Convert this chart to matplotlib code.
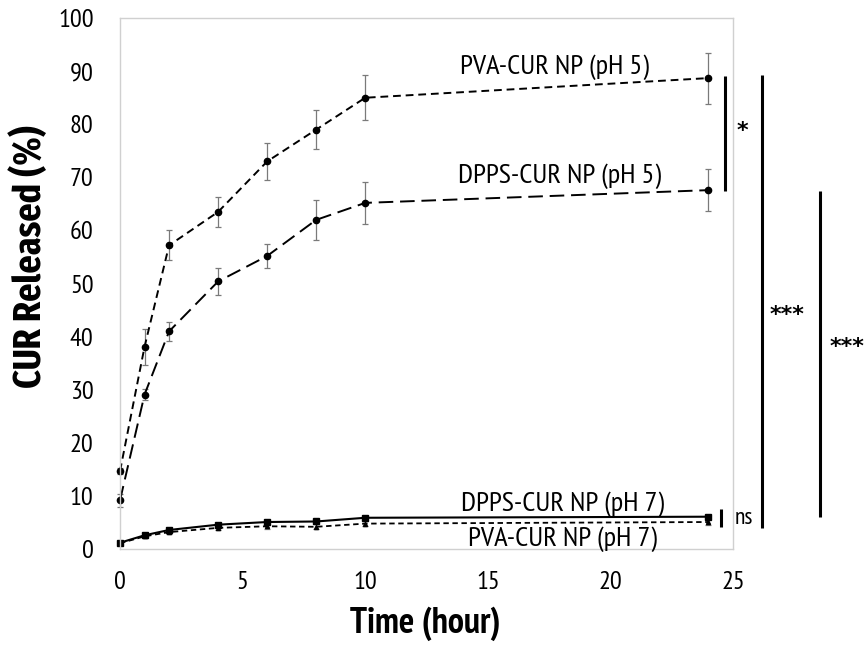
import matplotlib
matplotlib.use("Agg")
from matplotlib import pyplot as plt

plt.rcParams['font.family'] = ['PT Sans Narrow', 'DejaVu Sans']

# Release time points (hours)
time_h = [0, 1, 2, 4, 6, 8, 10, 24]

# Cumulative CUR release (%) and SD
pva_ph5 = [14.7, 38.1, 57.2, 63.5, 73.0, 79.0, 85.0, 88.7]
pva_ph5_err = [0.6, 3.4, 2.8, 2.9, 3.5, 3.6, 4.2, 4.8]
dpps_ph5 = [9.2, 29.1, 41.0, 50.4, 55.2, 62.0, 65.2, 67.6]
dpps_ph5_err = [1.2, 1.0, 1.8, 2.5, 2.3, 3.8, 3.9, 3.9]
dpps_ph7 = [1.2, 2.6, 3.6, 4.6, 5.1, 5.2, 5.9, 6.1]
dpps_ph7_err = [0.2, 0.3, 0.3, 0.3, 0.3, 0.3, 0.3, 0.3]
pva_ph7 = [1.1, 2.4, 3.2, 4.0, 4.3, 4.2, 4.8, 5.1]
pva_ph7_err = [0.2, 0.3, 0.3, 0.4, 0.5, 0.5, 0.5, 0.5]

fig = plt.figure(figsize=(8.66, 6.46), dpi=100)
ax = fig.add_axes([0.1386, 0.150, 0.7078, 0.822])

err_kw = dict(ecolor='#7a7a7a', elinewidth=0.9, capsize=2.2, capthick=0.9)

for y, e, ls, lw, mk, ms in [
        (pva_ph5, pva_ph5_err, (0, (4, 2.5)), 1.4, 'o', 4.5),
        (dpps_ph5, dpps_ph5_err, (0, (7.5, 3.5)), 1.4, 'o', 4.5),
        (pva_ph7, pva_ph7_err, (0, (3, 2)), 1.3, '^', 3),
        (dpps_ph7, dpps_ph7_err, '-', 1.5, 's', 4.8)]:
    ln, caps, bars = ax.errorbar(time_h, y, yerr=e, color='black', linestyle=ls,
                                 linewidth=lw, marker=mk, markersize=ms, **err_kw)
    for a in [ln, *caps, *bars]:
        a.set_clip_on(False)

ax.set_xlim(0, 25)
ax.set_ylim(0, 100)
ax.set_xticks(range(0, 26, 5))
ax.set_yticks(range(0, 101, 10))
ax.tick_params(length=0, labelsize=19)
ax.tick_params(axis='y', pad=19)
ax.tick_params(axis='x', pad=16)
for s in ax.spines.values():
    s.set_color('#d0d0d0')
    s.set_linewidth(1.0)

# Axis titles
fig.text(0.4908, 0.020, "Time (hour)", fontsize=26, fontweight='bold', ha='center', va='baseline')
fig.text(0.035, 0.602, "CUR Released (%)", fontsize=28, fontweight='bold', rotation=90,
         ha='center', va='center', family=['Fira Sans Extra Condensed', 'PT Sans Narrow'])

# Curve labels
lbl = dict(fontsize=20.5, ha='center', va='baseline')
ax.text(17.72, 89.5, "PVA-CUR NP (pH 5)", **lbl)
ax.text(17.92, 68.9, "DPPS-CUR NP (pH 5)", **lbl)
ax.text(18.03, 7.2, "DPPS-CUR NP (pH 7)", **lbl)
ax.text(18.03, 0.6, "PVA-CUR NP (pH 7)", **lbl)

# Significance bars
def sig_bar(x, y0, y1, lw=2.2):
    ax.plot([x, x], [y0, y1], color='black', linewidth=lw, clip_on=False, solid_capstyle='butt')

star = dict(fontsize=16, fontweight='bold', va='center', family='DejaVu Sans')
sig_bar(24.67, 67.5, 89.1)
ax.text(25.37, 78.7, "*", ha='center', **star)
sig_bar(26.18, 4.0, 89.2)
ax.text(27.2, 44.1, "***", ha='center', **star)
sig_bar(28.55, 6.0, 67.4)
ax.text(28.96, 38.0, "***", ha='left', **star)
sig_bar(24.51, 4.1, 7.5)
ax.text(25.45, 5.8, "ns", fontsize=17, ha='center', va='center')

fig.savefig("out.png", dpi=100)
